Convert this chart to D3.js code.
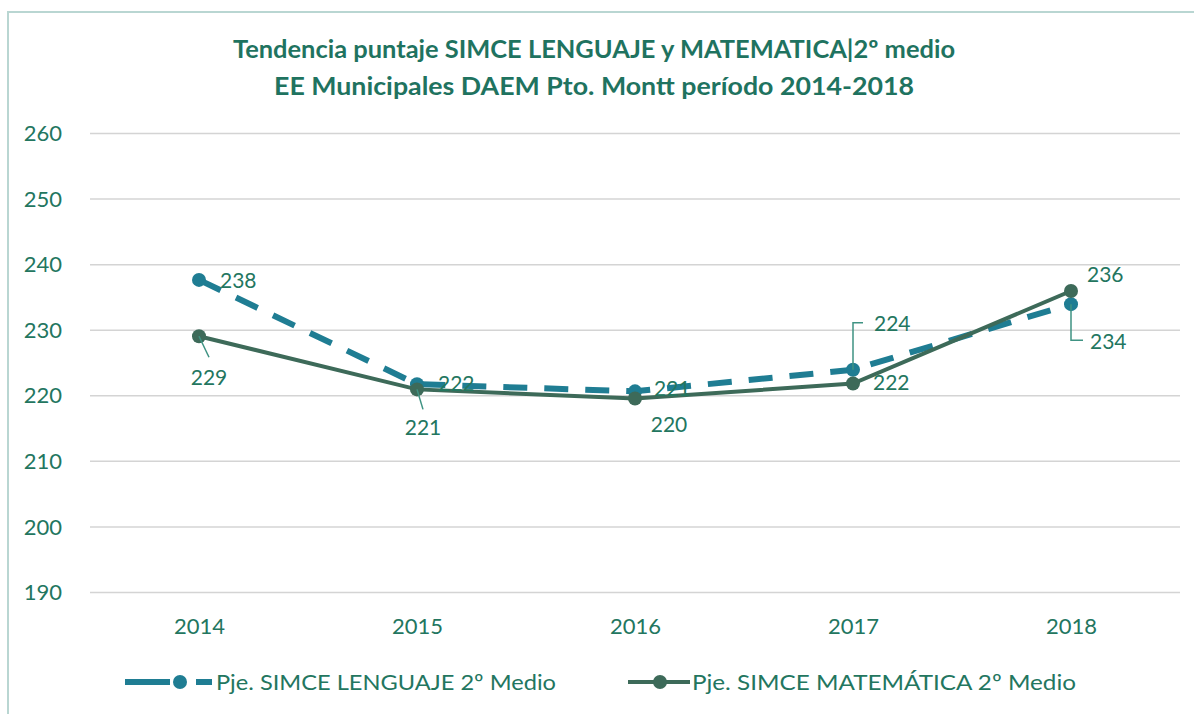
<!DOCTYPE html>
<html><head><meta charset="utf-8">
<script src="https://cdn.jsdelivr.net/npm/d3@7"></script>
<style>
html,body{margin:0;padding:0;background:#fff;}
svg{display:block;font-family:Lato,"Open Sans",sans-serif;}
</style></head>
<body>
<svg id="c" width="1194" height="714"></svg>
<script>
const categories = ["2014","2015","2016","2017","2018"];
const lenguaje = [237.6, 221.7, 220.6, 223.9, 233.9];
const matematica = [229.0, 220.9, 219.5, 221.8, 235.9];
const yTicks = [190,200,210,220,230,240,250,260];
const seriesNames = ["Pje. SIMCE LENGUAJE 2º Medio","Pje. SIMCE MATEMÁTICA 2º Medio"];
const titleLines = ["Tendencia puntaje SIMCE LENGUAJE y MATEMATICA|2º medio","EE Municipales DAEM Pto. Montt período 2014-2018"];

// label layout (offsets from point: text anchor start/middle, dx, dy, leader path)
const lenLabelLayout = [
  {dx:21, dy:1, anchor:"start", leader:null},
  {dx:21, dy:0, anchor:"start", leader:null},
  {dx:19, dy:-3, anchor:"start", leader:null},
  {dx:21, dy:-46, anchor:"start", leader:[[0,0],[0,-47],[10,-47]]},
  {dx:19, dy:38, anchor:"start", leader:[[0,0],[0,36],[12,36]]}
];
const matLabelLayout = [
  {dx:10, dy:41, anchor:"middle", leader:[[0,0],[10,21]]},
  {dx:6, dy:38, anchor:"middle", leader:[[0,0],[6,20]]},
  {dx:34, dy:26, anchor:"middle", leader:null},
  {dx:20, dy:-1, anchor:"start", leader:null},
  {dx:16, dy:-16, anchor:"start", leader:null}
];

const W=1194,H=714;
const svg=d3.select("#c");
const colLen="#1f7d93", colMat="#3d6a59", colText="#23765f", colGrid="#d4d4d4";

// border
svg.append("rect").attr("x",8).attr("y",12).attr("width",W).attr("height",H).attr("fill","none")
  .attr("stroke","#b9d6d2").attr("stroke-width",2);

const x=d3.scalePoint().domain(categories).range([90,1180]).padding(0.5);
const y=d3.scaleLinear().domain([190,260]).range([592,133]);

// title
svg.append("g").selectAll("text").data(titleLines).join("text")
  .attr("x",594).attr("y",(d,i)=>58+i*37).attr("text-anchor","middle")
  .attr("font-size",24).attr("font-weight","bold").attr("fill","#1f7360")
  .attr("textLength",(d,i)=>i===0?722:640).attr("lengthAdjust","spacingAndGlyphs")
  .text(d=>d);

// grid
const yAxis=d3.axisLeft(y).tickValues(yTicks).tickSize(-(1180-90)).tickPadding(28);
const gy=svg.append("g").attr("transform","translate(90,0)").call(yAxis);
gy.select(".domain").remove();
gy.selectAll(".tick line").attr("stroke",colGrid).attr("stroke-width",1.5);
gy.selectAll(".tick text").attr("font-size",22).attr("fill",colText).attr("font-family","Lato,sans-serif").attr("dy","0.35em");

const xAxis=d3.axisBottom(x).tickSize(0).tickPadding(26);
const gx=svg.append("g").attr("transform","translate(0,592)").call(xAxis);
gx.select(".domain").remove();
gx.selectAll(".tick text").attr("font-size",22).attr("fill",colText).attr("font-family","Lato,sans-serif");

const line=d3.line().x((d,i)=>x(categories[i])).y(d=>y(d));

// Lenguaje
svg.append("path").datum(lenguaje).attr("d",line).attr("fill","none").attr("stroke",colLen)
  .attr("stroke-width",6).attr("stroke-dasharray","24,17");
svg.append("g").selectAll("circle").data(lenguaje).join("circle")
  .attr("cx",(d,i)=>x(categories[i])).attr("cy",d=>y(d)).attr("r",7).attr("fill",colLen);

// Matematica
svg.append("path").datum(matematica).attr("d",line).attr("fill","none").attr("stroke",colMat)
  .attr("stroke-width",4);
svg.append("g").selectAll("circle").data(matematica).join("circle")
  .attr("cx",(d,i)=>x(categories[i])).attr("cy",d=>y(d)).attr("r",7).attr("fill",colMat);

function drawLabels(vals, layout){
  const g=svg.append("g");
  vals.forEach((v,i)=>{
    const px=x(categories[i]), py=y(v), L=layout[i];
    if(L.leader){
      g.append("path").attr("d",d3.line()(L.leader.map(p=>[px+p[0],py+p[1]])))
        .attr("fill","none").attr("stroke","#3f9383").attr("stroke-width",1.5);
    }
    g.append("text").attr("x",px+L.dx).attr("y",py+L.dy).attr("dy","0.35em")
      .attr("text-anchor",L.anchor).attr("font-size",21).attr("fill",colText)
      .text(Math.round(v));
  });
}
drawLabels(lenguaje,lenLabelLayout);
drawLabels(matematica,matLabelLayout);

// legend
const lg=svg.append("g");
const ly=682;
lg.append("line").attr("x1",125).attr("x2",170).attr("y1",ly).attr("y2",ly).attr("stroke",colLen).attr("stroke-width",6);
lg.append("circle").attr("cx",180).attr("cy",ly).attr("r",7).attr("fill",colLen);
lg.append("line").attr("x1",196).attr("x2",212).attr("y1",ly).attr("y2",ly).attr("stroke",colLen).attr("stroke-width",6);
lg.append("text").attr("x",216).attr("y",ly).attr("dy","0.35em").attr("font-size",22).attr("fill",colText)
  .attr("textLength",340).attr("lengthAdjust","spacingAndGlyphs").text(seriesNames[0]);
lg.append("line").attr("x1",628).attr("x2",690).attr("y1",ly).attr("y2",ly).attr("stroke",colMat).attr("stroke-width",4);
lg.append("circle").attr("cx",660).attr("cy",ly).attr("r",7).attr("fill",colMat);
lg.append("text").attr("x",692).attr("y",ly).attr("dy","0.35em").attr("font-size",22).attr("fill",colText)
  .attr("textLength",384).attr("lengthAdjust","spacingAndGlyphs").text(seriesNames[1]);
</script>
</body></html>
